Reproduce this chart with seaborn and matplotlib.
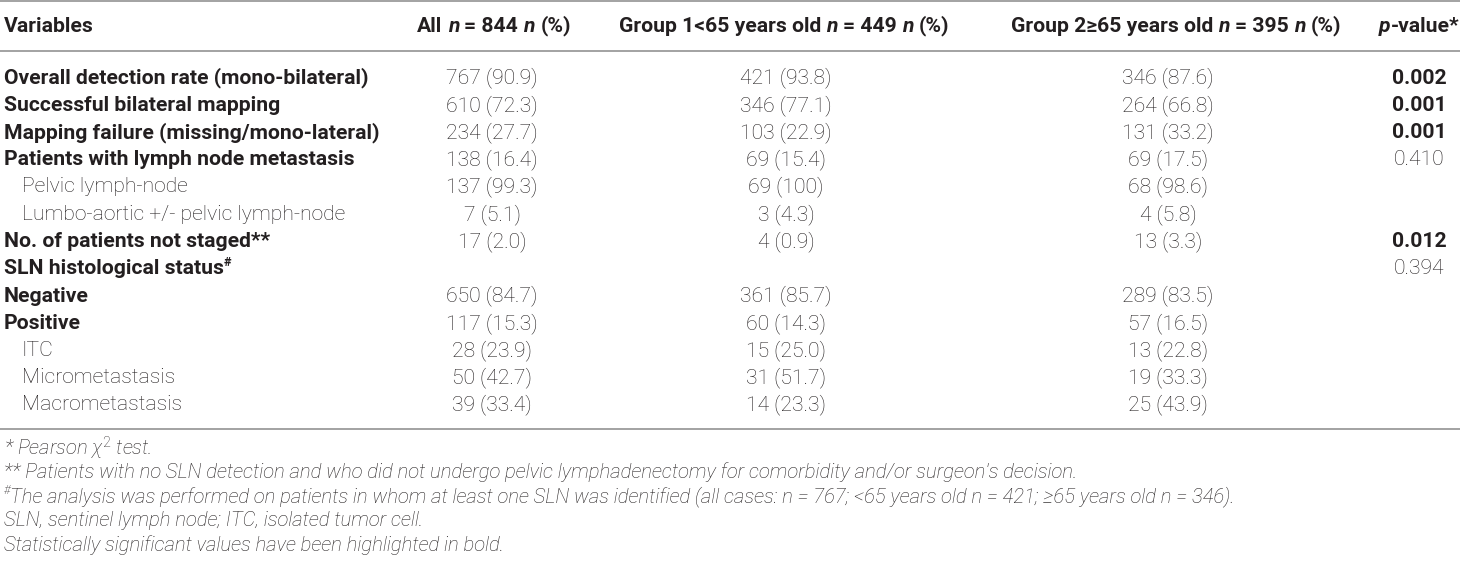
import matplotlib
matplotlib.use("Agg")
import matplotlib.pyplot as plt
import seaborn as sns

# ---------------- data ----------------
variables = [
    "Overall detection rate (mono-bilateral)",
    "Successful bilateral mapping",
    "Mapping failure (missing/mono-lateral)",
    "Patients with lymph node metastasis",
    "Pelvic lymph-node",
    "Lumbo-aortic +/- pelvic lymph-node",
    "No. of patients not staged**",
    "SLN histological status",
    "Negative",
    "Positive",
    "ITC",
    "Micrometastasis",
    "Macrometastasis",
]
all_n = [767, 610, 234, 138, 137, 7, 17, None, 650, 117, 28, 50, 39]
all_pct = [90.9, 72.3, 27.7, 16.4, 99.3, 5.1, 2.0, None, 84.7, 15.3, 23.9, 42.7, 33.4]
g1_n = [421, 346, 103, 69, 69, 3, 4, None, 361, 60, 15, 31, 14]
g1_pct = [93.8, 77.1, 22.9, 15.4, 100, 4.3, 0.9, None, 85.7, 14.3, 25.0, 51.7, 23.3]
g2_n = [346, 264, 131, 69, 68, 4, 13, None, 289, 57, 13, 19, 25]
g2_pct = [87.6, 66.8, 33.2, 17.5, 98.6, 5.8, 3.3, None, 83.5, 16.5, 22.8, 33.3, 43.9]
p_values = ["0.002", "0.001", "0.001", "0.410", "", "", "0.012", "0.394", "", "", "", "", ""]
p_significant = [True, True, True, False, False, False, True, False, False, False, False, False, False]

total_all, total_g1, total_g2 = 844, 449, 395

footnotes = [
    "* Pearson $\\chi^2$ test.",
    "** Patients with no SLN detection and who did not undergo pelvic lymphadenectomy for comorbidity and/or surgeon's decision.",
    "The analysis was performed on patients in whom at least one SLN was identified (all cases: n = 767; <65 years old n = 421; \u226565 years old n = 346).",
    "SLN, sentinel lymph node; ITC, isolated tumor cell.",
    "Statistically significant values have been highlighted in bold.",
]

# ---------------- style ----------------
row_heading = [True, True, True, True, False, False, True, True, True, True, False, False, False]

sns.set_theme(style="white")
FAM = ["Roboto", "DejaVu Sans"]
plt.rcParams["font.family"] = FAM
plt.rcParams["mathtext.fontset"] = "custom"
plt.rcParams["mathtext.it"] = "Roboto:italic:light"
plt.rcParams["mathtext.rm"] = "Roboto:light"

TXT = "#231f20"
RULE = "#9b9b9b"
FS = 15.2
FS_NOTE = 14.6

W, H = 1460, 564
fig = plt.figure(figsize=(W / 100, H / 100), dpi=100)
ax = fig.add_axes([0, 0, 1, 1])
ax.set_xlim(0, W)
ax.set_ylim(H, 0)
ax.axis("off")
renderer = fig.canvas.get_renderer()


def measure(s, **kw):
    t = ax.text(0, 0, s, fontsize=kw.get("size", FS), fontweight=kw.get("weight", "normal"),
                fontstyle=kw.get("style", "normal"), family=FAM)
    w = t.get_window_extent(renderer).width
    t.remove()
    return w


def draw_segments(x, y, segs, ha="center"):
    """segs: list of (text, props, space_after)."""
    widths = []
    for s, p, sp in segs:
        w = measure(s, **p)
        if sp:
            w += measure("a a", **p) - measure("aa", **p)
        widths.append(w)
    total = sum(widths)
    cx = x - total / 2 if ha == "center" else x
    for (s, p, sp), w in zip(segs, widths):
        ax.text(cx, y + p.get("dy", 0), s, fontsize=p.get("size", FS),
                fontweight=p.get("weight", "normal"), fontstyle=p.get("style", "normal"),
                family=FAM, color=TXT, ha="left", va="center")
        cx += w


def fmt(n, pct):
    if n is None:
        return ""
    ps = "100" if pct == 100 else f"{pct:.1f}"
    return f"{n} ({ps})"


B = {"weight": "bold"}
BI = {"weight": "bold", "style": "italic"}
L = {"weight": "light"}

# header
y_head = 26
draw_segments(4, y_head, [("Variables", B, False)], ha="left")
draw_segments(494, y_head, [("All", B, True), ("n", BI, True), (f"= {total_all}", B, True),
                            ("n", BI, True), ("(%)", B, False)])
draw_segments(784, y_head, [("Group 1<65 years old", B, True), ("n", BI, True), (f"= {total_g1}", B, True),
                            ("n", BI, True), ("(%)", B, False)])
draw_segments(1176, y_head, [("Group 2\u226565 years old", B, True), ("n", BI, True), (f"= {total_g2}", B, True),
                             ("n", BI, True), ("(%)", B, False)])
draw_segments(1419, y_head, [("p", BI, False), ("-value*", B, False)])

# rules
for yr in (1, 51, 429):
    ax.plot([0, W], [yr, yr], color=RULE, lw=1.3, solid_capstyle="butt")

# body
y0, dy = 78, 27.25
for i, var in enumerate(variables):
    y = y0 + i * dy
    if row_heading[i]:
        segs = [(var, B, False)]
        if var == "SLN histological status":
            segs.append(("#", {"weight": "bold", "size": FS * 0.6, "dy": -6}, False))
        draw_segments(4, y, segs, ha="left")
    else:
        draw_segments(22, y, [(var, L, False)], ha="left")
    for cx, n, pc in ((492, all_n[i], all_pct[i]), (786, g1_n[i], g1_pct[i]), (1168, g2_n[i], g2_pct[i])):
        s = fmt(n, pc)
        if s:
            ax.text(cx, y, s, fontsize=FS, fontweight="light", family=FAM, color=TXT,
                    ha="center", va="center")
    if p_values[i]:
        ax.text(1419, y, p_values[i], fontsize=FS, fontweight="bold" if p_significant[i] else "light",
                family=FAM, color=TXT, ha="center", va="center")

# footnotes
f0, fd = 448, 24.3
NOTE = {"style": "italic", "weight": "light", "size": FS_NOTE}
for j, note in enumerate(footnotes):
    y = f0 + j * fd
    if j == 2:
        draw_segments(4, y, [("#", {"style": "italic", "weight": "light", "size": FS_NOTE * 0.6, "dy": -6}, False),
                             (note, NOTE, False)], ha="left")
    else:
        ax.text(4, y, note, fontsize=FS_NOTE, fontweight="light", fontstyle="italic", family=FAM,
                color=TXT, ha="left", va="center")

fig.savefig("out.png", dpi=100)
